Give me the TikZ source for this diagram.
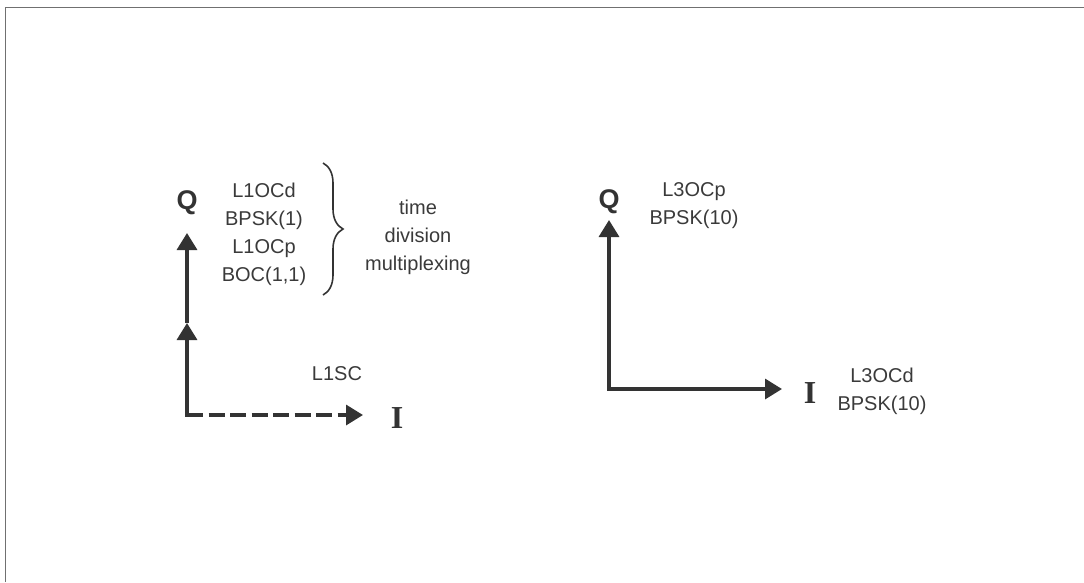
\documentclass[tikz,border=0pt]{standalone}
\usepackage{fontspec}
\setmainfont{Liberation Sans}
\newfontfamily\iqserif{Liberation Serif}
\usepackage{xcolor}
\usetikzlibrary{arrows.meta,decorations.pathreplacing}
\definecolor{axgray}{HTML}{333333}
\definecolor{txtgray}{HTML}{3a3a3a}
\definecolor{framegray}{HTML}{707070}

\begin{document}
\begin{tikzpicture}[x=1pt,y=-1pt,
  ax/.style={draw=axgray,line width=3.3pt,-{Triangle[length=17pt,width=20pt]}},
  lbl/.style={text=txtgray,font=\fontsize{20}{28}\selectfont,align=center,inner sep=0pt},
  qlbl/.style={text=axgray,font=\fontsize{27}{27}\selectfont\bfseries,inner sep=0pt,anchor=base},
  ilbl/.style={text=axgray,font=\fontsize{32}{32}\selectfont\iqserif\bfseries,inner sep=0pt,anchor=base},
  brc/.style={draw=axgray,line width=1.6pt,decorate,decoration={brace,amplitude=20pt}}]
  \useasboundingbox (0,0) rectangle (1084,582);
  \draw[framegray,line width=1.5pt] (5.5,582) -- (5.5,7.5) -- (1084,7.5);
  \coordinate (o1) at (187,415);
  \coordinate (m1) at (187,323);
  \coordinate (q1tip) at (187,233);
  \coordinate (i1tip) at (363,415);
  \coordinate (o3) at (609,389);
  \coordinate (q3tip) at (609,220);
  \coordinate (i3tip) at (782,389);
  \coordinate (btop) at (323,163);
  \coordinate (bbot) at (323,295);
  \node[qlbl] (q1) at (187,209) {Q};
  \node[ilbl] (i1) at (397,428) {I};
  \node[lbl] (l1oc) at (264,234) {L1OCd\\BPSK(1)\\L1OCp\\BOC(1,1)};
  \node[lbl] (tdm) at (418,237) {time\\division\\multiplexing};
  \node[lbl,anchor=base] (l1sc) at (337,380) {L1SC};
  \node[qlbl] (q3) at (609,208) {Q};
  \node[ilbl] (i3) at (810,403) {I};
  \node[lbl] (l3p) at (694,206) {L3OCp\\BPSK(10)};
  \node[lbl] (l3d) at (882,391) {L3OCd\\BPSK(10)};
  \draw[ax,line cap=rect] (o1) -- (m1);
  \draw[ax] (m1) -- (q1tip);
  \draw[ax,dash pattern=on 16pt off 5.5pt] (o1) -- (i1tip);
  \draw[ax,{Triangle[length=17pt,width=20pt]}-{Triangle[length=17pt,width=20pt]}] (q3tip) -- (o3) -- (i3tip);
  \draw[brc] (btop) -- (bbot);
\end{tikzpicture}
\end{document}
